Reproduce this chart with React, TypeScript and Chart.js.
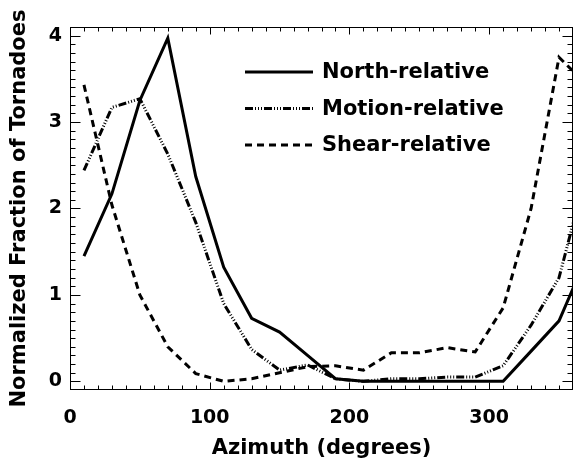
import React, { useEffect, useRef } from "react";
import { Chart, registerables } from "chart.js";

Chart.register(...registerables);

// Azimuth bin centres (degrees); the last point repeats the first bin (wrap-around past 360)
const azimuthDeg = [10, 30, 50, 70, 90, 110, 130, 150, 170, 190, 210, 230, 250, 270, 290, 310, 330, 350, 370];
const northRelative = [1.45, 2.17, 3.25, 3.97, 2.37, 1.32, 0.73, 0.57, 0.3, 0.03, 0, 0, 0, 0, 0, 0, 0.35, 0.7, 1.45];
const motionRelative = [2.44, 3.17, 3.27, 2.63, 1.84, 0.9, 0.37, 0.13, 0.19, 0.03, 0.0, 0.03, 0.03, 0.05, 0.05, 0.18, 0.65, 1.2, 2.44];
const shearRelative = [3.43, 2.04, 1.0, 0.4, 0.09, 0.0, 0.03, 0.1, 0.17, 0.18, 0.13, 0.33, 0.33, 0.39, 0.34, 0.85, 2.0, 3.75, 3.43];

const seriesLabels = ["North-relative", "Motion-relative", "Shear-relative"];
const xTickValues = [0, 100, 200, 300];
const yTickValues = [0, 1, 2, 3, 4];

const FONT_FAMILY = "'DejaVu Sans', sans-serif";
const TEXT_SIZE = 21;
const TICK_SIZE = 19;

const framePlugin = {
  id: "idlFrame",
  afterDatasetsDraw(chart: any) {
    const { ctx, chartArea: a, scales } = chart;
    const xs = scales.x;
    const ys = scales.y;
    ctx.save();
    ctx.strokeStyle = "#000";
    ctx.lineWidth = 1;
    const L = Math.round(a.left) + 0.5;
    const R = Math.round(a.right) - 0.5;
    const T = Math.round(a.top) + 0.5;
    const B = Math.round(a.bottom) - 0.5;
    ctx.strokeRect(L, T, R - L, B - T);
    ctx.beginPath();
    for (let v = 0; v <= 360; v += 10) {
      const px = Math.round(xs.getPixelForValue(v)) + 0.5;
      const len = v % 100 === 0 ? 7 : 4;
      ctx.moveTo(px, B);
      ctx.lineTo(px, B - len);
      ctx.moveTo(px, T);
      ctx.lineTo(px, T + len);
    }
    for (let i = -1; i <= 41; i++) {
      const py = Math.round(ys.getPixelForValue(i / 10)) + 0.5;
      if (py < T || py > B) continue;
      const len = i % 10 === 0 ? 10 : 5;
      ctx.moveTo(L, py);
      ctx.lineTo(L + len, py);
      ctx.moveTo(R, py);
      ctx.lineTo(R - len, py);
    }
    ctx.stroke();
    ctx.restore();
  },
};

const insetLegendPlugin = {
  id: "insetLegend",
  afterDraw(chart: any, _args: any, opts: any) {
    const { ctx, chartArea: a } = chart;
    chart.data.datasets.forEach((ds: any, i: number) => {
      const yy = a.top + opts.top + i * opts.rowGap;
      const x0 = a.left + opts.left;
      ctx.save();
      ctx.strokeStyle = ds.borderColor;
      ctx.lineWidth = ds.borderWidth;
      ctx.setLineDash(ds.borderDash || []);
      ctx.beginPath();
      ctx.moveTo(x0, yy);
      ctx.lineTo(x0 + opts.lineLength, yy);
      ctx.stroke();
      ctx.setLineDash([]);
      ctx.fillStyle = "#000";
      ctx.font = `bold ${TEXT_SIZE}px ${FONT_FAMILY}`;
      ctx.textBaseline = "middle";
      ctx.textAlign = "left";
      ctx.fillText(ds.label, x0 + opts.lineLength + opts.gap, yy + 1);
      ctx.restore();
    });
  },
};

export default function App() {
  const canvasRef = useRef<HTMLCanvasElement | null>(null);

  useEffect(() => {
    document.body.style.margin = "0";
    const canvas = canvasRef.current;
    if (!canvas) return;

    const mk = (vals: number[]) => azimuthDeg.map((x, i) => ({ x, y: vals[i] }));

    const chart = new Chart(canvas, {
      type: "line",
      data: {
        datasets: [
          {
            label: seriesLabels[0],
            data: mk(northRelative),
            borderColor: "#000",
            borderWidth: 3,
            borderDash: [],
            pointRadius: 0,
            tension: 0,
            fill: false,
            clip: 0,
          },
          {
            label: seriesLabels[1],
            data: mk(motionRelative),
            borderColor: "#000",
            borderWidth: 3,
            borderDash: [8, 2, 1, 2, 1, 2, 1, 2],
            pointRadius: 0,
            tension: 0,
            fill: false,
            clip: 0,
          },
          {
            label: seriesLabels[2],
            data: mk(shearRelative),
            borderColor: "#000",
            borderWidth: 3,
            borderDash: [7, 5],
            pointRadius: 0,
            tension: 0,
            fill: false,
            clip: 0,
          },
        ] as any,
      },
      options: {
        responsive: false,
        animation: false,
        devicePixelRatio: 1,
        layout: { padding: { top: 27, right: 0, left: 0, bottom: 0 } },
        plugins: {
          legend: { display: false },
          tooltip: { enabled: false },
          insetLegend: { left: 175, top: 45, rowGap: 36.5, lineLength: 68, gap: 9 },
        } as any,
        scales: {
          x: {
            type: "linear",
            min: 0,
            max: 360,
            grid: { display: false, drawTicks: false },
            border: { display: false },
            afterBuildTicks: (scale: any) => {
              scale.ticks = xTickValues.map((v) => ({ value: v }));
            },
            afterFit: (scale: any) => {
              scale.height = 75;
            },
            ticks: {
              padding: 17,
              color: "#000",
              maxRotation: 0,
              font: { family: FONT_FAMILY, size: TICK_SIZE, weight: "bold" },
            },
            title: {
              display: true,
              text: "Azimuth (degrees)",
              color: "#000",
              font: { family: FONT_FAMILY, size: TEXT_SIZE, weight: "bold" },
              padding: { top: 0, bottom: 4 },
            },
          },
          y: {
            type: "linear",
            min: -0.1,
            max: 4.1,
            grid: { display: false, drawTicks: false },
            border: { display: false },
            afterBuildTicks: (scale: any) => {
              scale.ticks = yTickValues.map((v) => ({ value: v }));
            },
            afterFit: (scale: any) => {
              scale.width = 70;
            },
            ticks: {
              padding: 8,
              color: "#000",
              font: { family: FONT_FAMILY, size: TICK_SIZE, weight: "bold" },
            },
            title: {
              display: true,
              text: "Normalized Fraction of Tornadoes",
              color: "#000",
              font: { family: FONT_FAMILY, size: TEXT_SIZE, weight: "bold" },
              padding: { top: 7, bottom: 0 },
            },
          },
        },
      },
      plugins: [framePlugin, insetLegendPlugin],
    });

    return () => chart.destroy();
  }, []);

  return <canvas ref={canvasRef} width={573} height={465} style={{ display: "block" }} />;
}
